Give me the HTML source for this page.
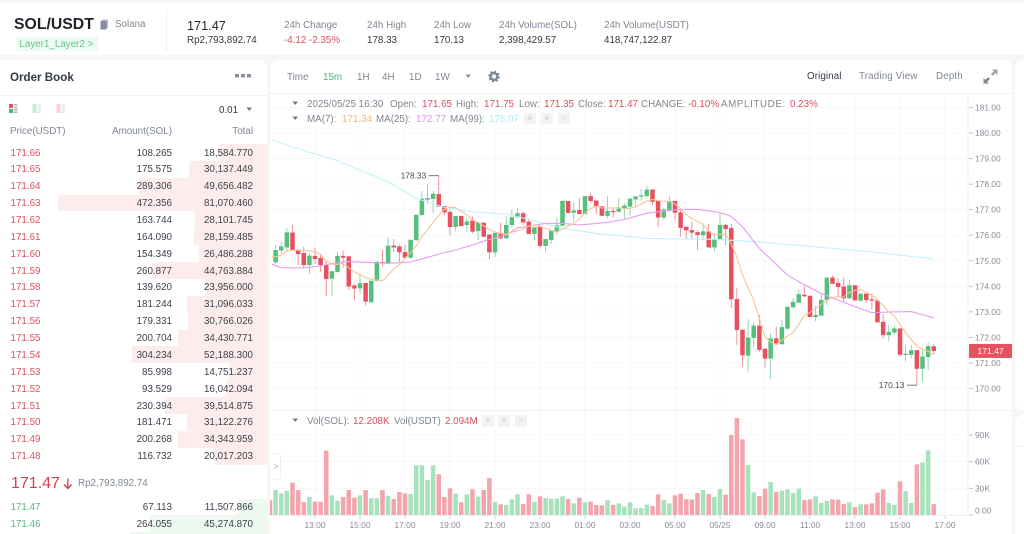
<!DOCTYPE html>
<html lang="en">
<head>
<meta charset="utf-8">
<title>SOL/USDT chart</title>
<style>
html,body{margin:0;padding:0;width:1024px;height:534px;overflow:hidden;background:#f6f6f6;font-family:"Liberation Sans",sans-serif;font-size:9.8px;color:#474d57}
body{position:relative;filter:blur(0.3px)}
.panel{position:absolute;background:#fff}
.t{position:absolute;line-height:14px;height:14px;white-space:nowrap}
.g{color:#7f8793}.d{color:#1e2329}.r{color:#d9505f}.gr{color:#5cb585}
.row{position:absolute;left:0;width:267px;height:16.87px;line-height:16.87px}
.bar{position:absolute;right:0;top:0;height:100%;background:#fdecec}
.row.b .bar{background:#edf8f1}
.row span{position:absolute;white-space:nowrap;top:1.5px}
.p{left:10.5px;color:#d9505f}.row.b .p{color:#5cb585}
.a{right:95px;color:#3c424c}.v{right:14px;color:#3c424c}
.btn{position:absolute;width:11.5px;height:11.5px;background:#f3f3f4;border-radius:1px;color:#dcdfe3;font-size:10px;line-height:11px;text-align:center}
svg text{font-family:"Liberation Sans",sans-serif}
</style>
</head>
<body>

<div class="panel" style="left:0;top:3px;width:1024px;height:52px"></div>
<div class="panel" style="left:0;top:60px;width:267px;height:474px;border-radius:0 8px 0 0"></div>
<div class="panel" style="left:270px;top:60px;width:742px;height:474px;border-radius:8px 8px 0 0"></div>
<div class="panel" style="left:1015px;top:60px;width:9px;height:350px;border-radius:8px 0 0 8px"></div>
<div class="panel" style="left:1015px;top:415px;width:9px;height:119px;border-radius:8px 0 0 0"></div>
<div style="position:absolute;left:1015px;top:446px;width:9px;height:1px;background:#eee"></div>

<!-- header -->
<div class="t d" style="left:14px;top:16.5px;font-size:15.8px;font-weight:bold;line-height:16px;height:16px">SOL/USDT</div>
<svg style="position:absolute;left:100px;top:19px" width="9" height="11"><rect x="2" y="0.5" width="6" height="8.5" fill="#b3b9c2"/><rect x="0.5" y="2" width="6" height="8.5" fill="#848e9c"/></svg>
<div class="t g" style="left:115px;top:18px">Solana</div>
<div style="position:absolute;left:17px;top:37px;width:81px;height:14px;background:#ecfaf1;border-radius:2px"></div>
<div class="t" style="left:19.5px;top:38px;color:#62c58a">Layer1_Layer2 &gt;</div>
<div style="position:absolute;left:166px;top:10px;width:1px;height:42px;background:#f0f0f0"></div>
<div class="t d" style="left:187px;top:19px;font-size:12.7px">171.47</div>
<div class="t" style="left:187px;top:33.5px;color:#333a44">Rp2,793,892.74</div>
<div class="t g" style="left:284px;top:19px">24h Change</div>
<div class="t r" style="left:284px;top:34px">-4.12 -2.35%</div>
<div class="t g" style="left:367px;top:19px">24h High</div>
<div class="t" style="left:367px;top:34px;color:#333a44">178.33</div>
<div class="t g" style="left:434px;top:19px">24h Low</div>
<div class="t" style="left:434px;top:34px;color:#333a44">170.13</div>
<div class="t g" style="left:499px;top:19px">24h Volume(SOL)</div>
<div class="t" style="left:499px;top:34px;color:#333a44">2,398,429.57</div>
<div class="t g" style="left:604px;top:19px">24h Volume(USDT)</div>
<div class="t" style="left:604px;top:34px;color:#333a44">418,747,122.87</div>

<!-- order book -->
<div class="t" style="left:10px;top:70.5px;font-size:11.6px;font-weight:bold;color:#333a44">Order Book</div>
<svg style="position:absolute;left:235px;top:74px" width="17" height="4"><rect x="0" y="0" width="4" height="3.4" fill="#848e9c"/><rect x="6" y="0" width="4" height="3.4" fill="#848e9c"/><rect x="12" y="0" width="4" height="3.4" fill="#848e9c"/></svg>
<div style="position:absolute;left:0;top:94.5px;width:267px;height:1px;background:#f2f2f2"></div>
<svg style="position:absolute;left:9px;top:104px" width="58" height="10">
<rect x="0" y="0" width="4" height="4" fill="#dc5560"/><rect x="0" y="5" width="4" height="4" fill="#4fb27a"/><rect x="5" y="0" width="3.4" height="1.6" fill="#b5bac2"/><rect x="5" y="2.7" width="3.4" height="1.6" fill="#b5bac2"/><rect x="5" y="5" width="3.4" height="1.6" fill="#b5bac2"/><rect x="5" y="7.4" width="3.4" height="1.6" fill="#b5bac2"/>
<rect x="23.5" y="0" width="4" height="9" fill="#c5ecd4"/><rect x="28.5" y="0" width="3.4" height="1.6" fill="#e2e5e8"/><rect x="28.5" y="2.7" width="3.4" height="1.6" fill="#e2e5e8"/><rect x="28.5" y="5" width="3.4" height="1.6" fill="#e2e5e8"/><rect x="28.5" y="7.4" width="3.4" height="1.6" fill="#e2e5e8"/>
<rect x="47.5" y="0" width="4" height="9" fill="#fbd2d6"/><rect x="52.5" y="0" width="3.4" height="1.6" fill="#e2e5e8"/><rect x="52.5" y="2.7" width="3.4" height="1.6" fill="#e2e5e8"/><rect x="52.5" y="5" width="3.4" height="1.6" fill="#e2e5e8"/><rect x="52.5" y="7.4" width="3.4" height="1.6" fill="#e2e5e8"/>
</svg>
<div class="t" style="left:219px;top:104px;color:#333a44">0.01</div>
<svg style="position:absolute;left:246px;top:106.5px" width="7" height="5"><path d="M0.5 0.5H6L3.2 4z" fill="#6f7885"/></svg>
<div class="t g" style="left:10px;top:125px">Price(USDT)</div>
<div class="t g" style="right:852px;top:125px">Amount(SOL)</div>
<div class="t g" style="right:771px;top:125px">Total</div>

<div>
<div class="row" style="top:144px"><div class="bar" style="width:48px"></div><span class="p">171.66</span><span class="a">108.265</span><span class="v">18,584.770</span></div>
<div class="row" style="top:160.87px"><div class="bar" style="width:78px"></div><span class="p">171.65</span><span class="a">175.575</span><span class="v">30,137.449</span></div>
<div class="row" style="top:177.74px"><div class="bar" style="width:128px"></div><span class="p">171.64</span><span class="a">289.306</span><span class="v">49,656.482</span></div>
<div class="row" style="top:194.61px"><div class="bar" style="width:209px"></div><span class="p">171.63</span><span class="a">472.356</span><span class="v">81,070.460</span></div>
<div class="row" style="top:211.48px"><div class="bar" style="width:72.5px"></div><span class="p">171.62</span><span class="a">163.744</span><span class="v">28,101.745</span></div>
<div class="row" style="top:228.35px"><div class="bar" style="width:72.6px"></div><span class="p">171.61</span><span class="a">164.090</span><span class="v">28,159.485</span></div>
<div class="row" style="top:245.22px"><div class="bar" style="width:68px"></div><span class="p">171.60</span><span class="a">154.349</span><span class="v">26,486.288</span></div>
<div class="row" style="top:262.09px"><div class="bar" style="width:115.5px"></div><span class="p">171.59</span><span class="a">260.877</span><span class="v">44,763.884</span></div>
<div class="row" style="top:278.96px"><div class="bar" style="width:62px"></div><span class="p">171.58</span><span class="a">139.620</span><span class="v">23,956.000</span></div>
<div class="row" style="top:295.83px"><div class="bar" style="width:80px"></div><span class="p">171.57</span><span class="a">181.244</span><span class="v">31,096.033</span></div>
<div class="row" style="top:312.7px"><div class="bar" style="width:79px"></div><span class="p">171.56</span><span class="a">179.331</span><span class="v">30,766.026</span></div>
<div class="row" style="top:329.57px"><div class="bar" style="width:89px"></div><span class="p">171.55</span><span class="a">200.704</span><span class="v">34,430.771</span></div>
<div class="row" style="top:346.44px"><div class="bar" style="width:135px"></div><span class="p">171.54</span><span class="a">304.234</span><span class="v">52,188.300</span></div>
<div class="row" style="top:363.31px"><div class="bar" style="width:38px"></div><span class="p">171.53</span><span class="a">85.998</span><span class="v">14,751.237</span></div>
<div class="row" style="top:380.18px"><div class="bar" style="width:41px"></div><span class="p">171.52</span><span class="a">93.529</span><span class="v">16,042.094</span></div>
<div class="row" style="top:397.05px"><div class="bar" style="width:102px"></div><span class="p">171.51</span><span class="a">230.394</span><span class="v">39,514.875</span></div>
<div class="row" style="top:413.92px"><div class="bar" style="width:80px"></div><span class="p">171.50</span><span class="a">181.471</span><span class="v">31,122.276</span></div>
<div class="row" style="top:430.79px"><div class="bar" style="width:88.6px"></div><span class="p">171.49</span><span class="a">200.268</span><span class="v">34,343.959</span></div>
<div class="row" style="top:447.66px"><div class="bar" style="width:52px"></div><span class="p">171.48</span><span class="a">116.732</span><span class="v">20,017.203</span></div>
</div>

<div class="t r" style="left:11px;top:477px;font-size:16px;color:#d3414f">171.47</div>
<svg style="position:absolute;left:63px;top:477.5px" width="10" height="12"><path d="M4.8 0.5V10.5M1 6.5L4.8 10.5L8.6 6.5" stroke="#d3414f" stroke-width="1.3" fill="none"/></svg>
<div class="t g" style="left:78px;top:477px">Rp2,793,892.74</div>

<div>
<div class="row b" style="top:498.6px"><div class="bar" style="width:30px"></div><span class="p">171.47</span><span class="a">67.113</span><span class="v">11,507.866</span></div>
<div class="row b" style="top:515.4px"><div class="bar" style="width:117px"></div><span class="p">171.46</span><span class="a">264.055</span><span class="v">45,274.870</span></div>
<div class="row b" style="top:532.3px;height:1.7px"><div class="bar" style="width:137px"></div></div>
</div>

<!-- toolbar -->
<div class="t g" style="left:287px;top:70.5px">Time</div>
<div class="t" style="left:323px;top:70.5px;color:#4fb27a">15m</div>
<div class="t g" style="left:357px;top:70.5px">1H</div>
<div class="t g" style="left:382px;top:70.5px">4H</div>
<div class="t g" style="left:409px;top:70.5px">1D</div>
<div class="t g" style="left:435px;top:70.5px">1W</div>
<svg style="position:absolute;left:465px;top:74px" width="7" height="5"><path d="M0.5 0.5H6L3.2 4z" fill="#848e9c"/></svg>
<svg style="position:absolute;left:488px;top:70px" width="12" height="13"><circle cx="6" cy="6.5" r="3.4" fill="none" stroke="#7c8694" stroke-width="2.4"/><circle cx="6" cy="6.5" r="5" fill="none" stroke="#7c8694" stroke-width="1.6" stroke-dasharray="2 1.93"/></svg>
<div class="t" style="left:807px;top:70px;color:#333a44;letter-spacing:.1px">Original</div>
<div class="t g" style="left:859px;top:70px;letter-spacing:.15px">Trading View</div>
<div class="t g" style="left:936px;top:70px;letter-spacing:.15px">Depth</div>
<svg style="position:absolute;left:983px;top:69px" width="15" height="15"><path d="M9 0.5H14.5V6L12.6 4.1L9.8 6.9L8 5.1L10.8 2.3z" fill="#9aa3af"/><path d="M6 14.5H0.5V9L2.4 10.9L5.2 8.1L7 9.9L4.2 12.7z" fill="#7c8694"/></svg>
<div style="position:absolute;left:270px;top:93px;width:742px;height:1px;background:#f2f2f2"></div>

<!-- chart -->
<svg id="chart" style="position:absolute;left:0;top:0" width="1024" height="534">
<defs>
<clipPath id="candleClip"><rect x="272.7" y="93" width="696" height="318"/></clipPath>
<clipPath id="volClip"><rect x="270" y="411" width="698" height="105"/></clipPath>
</defs>
<g id="grid"></g>
<g id="vols" clip-path="url(#volClip)"></g>
<g id="candles" clip-path="url(#candleClip)"></g>
<g id="mas"></g>
<g id="axes"></g>
<g id="notes"></g>
</svg>

<!-- legend lines -->
<div style="position:absolute;left:0;top:0">
<svg style="position:absolute;left:292px;top:101px" width="7" height="5"><path d="M0.5 0.5H6L3.2 4z" fill="#6f7885"/></svg>
<div class="t g" style="left:307px;top:97.5px">2025/05/25 16:30</div>
<div class="t g" style="left:390px;top:97.5px">Open:</div>
<div class="t r" style="left:422px;top:97.5px">171.65</div>
<div class="t g" style="left:456px;top:97.5px">High:</div>
<div class="t r" style="left:484px;top:97.5px">171.75</div>
<div class="t g" style="left:519px;top:97.5px">Low:</div>
<div class="t r" style="left:544px;top:97.5px">171.35</div>
<div class="t g" style="left:578px;top:97.5px">Close:</div>
<div class="t r" style="left:608px;top:97.5px">171.47</div>
<div class="t g" style="left:641px;top:97.5px">CHANGE:</div>
<div class="t r" style="left:688px;top:97.5px">-0.10%</div>
<div class="t g" style="left:721px;top:97.5px;letter-spacing:.6px">AMPLITUDE:</div>
<div class="t r" style="left:790px;top:97.5px">0.23%</div>
<svg style="position:absolute;left:292px;top:116px" width="7" height="5"><path d="M0.5 0.5H6L3.2 4z" fill="#6f7885"/></svg>
<div class="t g" style="left:307px;top:112.5px">MA(7):</div>
<div class="t" style="left:342px;top:112.5px;color:#f3b573">171.34</div>
<div class="t g" style="left:376px;top:112.5px">MA(25):</div>
<div class="t" style="left:416px;top:112.5px;color:#e48df0">172.77</div>
<div class="t g" style="left:450px;top:112.5px">MA(99):</div>
<div class="t" style="left:489px;top:112.5px;color:#a5eef5">175.07</div>
<div class="btn" style="left:524px;top:112.5px">●</div>
<div class="btn" style="left:541px;top:112.5px">●</div>
<div class="btn" style="left:558px;top:112.5px">×</div>
<svg style="position:absolute;left:292px;top:418px" width="7" height="5"><path d="M0.5 0.5H6L3.2 4z" fill="#6f7885"/></svg>
<div class="t g" style="left:307px;top:414.5px">Vol(SOL):</div>
<div class="t r" style="left:353px;top:414.5px">12.208K</div>
<div class="t g" style="left:394px;top:414.5px">Vol(USDT)</div>
<div class="t r" style="left:445px;top:414.5px">2.094M</div>
<div class="btn" style="left:482px;top:415px">●</div>
<div class="btn" style="left:498px;top:415px">●</div>
<div class="btn" style="left:515px;top:415px">×</div>
<div style="position:absolute;left:272px;top:453px;width:9px;height:27px;border:1px solid #efefef;border-left:0;border-radius:3px;background:#fff;box-sizing:border-box;color:#9aa3af;font-size:8px;line-height:25px;text-align:center">&gt;</div>
</div>

<script>
const timeLabels = ['13:00','15:00','17:00','19:00','21:00','23:00','01:00','03:00','05:00','05/25','09:00','11:00','13:00','15:00','17:00'];
const priceTicks = [170,171,172,173,174,175,176,177,178,179,180,181];
const volumeTicks = [0,30,60,90];
const volumeTickLabels = ['0.00','30K','60K','90K'];

const opens = [175.30,
174.94,175.40,175.52,176.10,175.44,175.30,174.83,175.19,175.11,174.83,
174.30,174.56,175.19,175.17,174.03,173.92,174.13,173.37,174.21,174.95,
174.90,175.59,175.56,175.34,175.12,175.80,176.79,177.39,177.42,177.61,
177.14,176.91,176.33,176.75,176.40,176.57,176.16,176.49,176.03,175.33,
176.09,175.88,176.40,176.70,176.86,176.53,176.05,176.33,175.58,175.81,
176.14,176.37,177.34,176.88,176.99,176.83,177.53,177.36,177.13,176.76,
176.95,176.92,177.03,177.12,177.40,177.51,177.53,177.79,177.34,176.69,
176.99,177.34,176.89,176.33,176.20,176.12,176.00,176.15,175.52,175.84,
176.40,176.28,173.50,172.30,171.29,171.98,172.46,171.56,171.17,171.96,
171.73,172.34,173.18,173.36,173.67,173.63,172.80,172.85,173.46,174.34,
174.13,173.99,173.53,174.04,173.44,173.71,173.49,173.45,172.61,172.09,
172.19,172.35,171.31,171.32,171.50,170.77,171.23,171.65];
const highs = [175.50,
175.62,175.75,176.27,176.40,175.44,175.55,175.29,175.52,175.23,174.96,
174.59,175.35,175.40,175.19,174.09,174.44,174.14,174.22,174.99,175.42,
175.92,175.85,175.62,175.62,175.82,176.80,177.73,177.99,177.73,178.33,
177.14,176.99,176.75,176.77,176.69,176.73,176.50,176.49,176.03,176.10,
176.49,176.75,176.99,177.05,176.92,176.66,176.31,176.40,175.85,176.20,
176.69,177.38,177.34,177.31,177.44,177.53,177.64,177.36,177.13,177.53,
177.08,177.44,177.25,177.44,177.53,177.80,177.93,177.79,177.34,177.08,
177.53,177.34,177.05,176.33,176.53,176.20,176.46,176.46,176.07,176.86,
176.44,176.44,173.92,172.30,172.71,172.62,172.88,171.56,172.16,172.42,
172.68,173.20,173.53,173.86,174.01,173.63,173.23,173.70,174.34,174.42,
174.31,174.35,174.25,174.04,173.75,173.75,173.72,173.46,172.91,172.49,
172.45,172.35,171.70,171.70,171.50,171.50,171.80,171.75];
const lows = [175.00,
174.87,175.26,175.35,175.39,174.84,174.73,174.49,174.87,174.57,173.63,
173.62,174.53,174.74,173.86,173.46,173.72,173.24,173.37,174.18,174.79,
174.87,175.35,174.96,175.09,175.09,175.79,176.76,177.22,176.86,177.12,
176.79,176.01,176.16,176.33,176.14,176.07,175.81,175.92,175.06,175.16,
175.84,175.84,176.31,176.66,176.40,176.05,175.79,175.48,175.32,175.66,
176.03,176.36,176.86,176.53,176.83,176.82,177.25,176.83,176.75,176.66,
176.69,176.89,176.66,176.76,177.12,177.35,177.51,177.18,176.31,176.60,
176.92,176.57,175.94,175.85,175.85,175.42,175.79,175.52,175.35,175.84,
175.62,173.14,171.70,170.85,170.66,171.64,171.44,170.82,170.37,171.70,
171.73,172.31,173.14,173.33,173.57,172.79,172.64,172.85,173.27,174.08,
173.59,173.40,173.50,173.42,173.40,173.36,173.11,172.58,171.96,171.86,
172.09,171.25,171.05,171.18,170.13,170.27,170.72,171.35];
const closes = [175.10,
175.42,175.56,176.11,175.42,175.26,174.83,175.20,175.07,174.83,174.29,
174.59,175.19,175.12,173.99,173.91,174.12,173.40,174.22,174.96,174.90,
175.59,175.52,175.33,175.12,175.82,176.80,177.43,177.45,177.62,177.12,
176.89,176.32,176.75,176.36,176.54,176.14,176.50,175.94,175.33,176.09,
175.88,176.40,176.70,176.86,176.50,176.05,176.31,175.58,175.85,176.18,
176.39,177.34,176.87,176.97,176.83,177.53,177.34,177.12,176.76,176.95,
176.90,177.04,177.16,177.43,177.52,177.56,177.78,177.31,176.69,177.01,
177.34,176.88,176.29,176.19,176.10,176.01,176.15,175.52,175.86,176.40,
176.24,173.49,172.29,171.30,171.99,172.46,171.51,171.17,171.96,171.73,
172.40,173.20,173.39,173.69,173.61,172.80,172.88,173.47,174.34,174.10,
173.97,173.53,174.04,173.45,173.71,173.46,173.44,172.59,172.09,172.21,
172.35,171.32,171.36,171.50,170.77,171.25,171.66,171.47];
const volumesK = [16.9,
28.1,24.4,27.0,36.4,28.1,14.6,20.3,15.0,15.0,72.4,
22.1,16.1,20.3,28.1,19.5,22.1,28.1,18.8,18.8,28.1,
21.4,18.0,25.9,24.4,23.6,55.9,55.9,39.4,55.9,45.8,
20.3,30.0,24.0,14.3,23.3,28.9,20.6,28.1,41.6,14.6,
12.0,11.3,17.6,23.3,12.4,23.3,14.6,21.0,19.1,18.4,
18.4,21.0,18.0,13.1,19.5,14.3,15.0,11.3,10.9,16.9,
11.3,13.1,9.4,14.3,7.5,7.9,11.6,10.1,23.3,16.9,
13.1,22.1,24.0,17.6,17.6,24.8,28.1,23.6,20.3,29.3,
22.9,90.0,109.1,85.1,56.3,25.5,21.4,29.6,37.1,25.9,
27.4,28.9,24.8,29.6,16.9,17.6,21.0,13.5,15.8,17.6,
17.3,12.4,14.3,9.0,12.0,12.0,13.1,25.1,28.9,13.5,
11.3,37.9,27.0,13.5,57.0,58.9,72.8,12.2];
const priorCloses = [175.20,175.00,175.10,175.30,175.00];
const ma25Candles = [0,2,6,9,12,14,18,21,25,27,30,33,36,38,42,44,46,49,52,55,60,63,67,69,73,76,79,81,82,83,84,87,92,94,98,101,104,107,110,114,118];
const ma25Values = [174.86,174.73,174.72,174.80,174.93,174.97,174.93,174.90,174.95,175.07,175.26,175.42,175.62,175.77,176.01,176.29,176.36,176.46,176.46,176.40,176.50,176.62,176.86,176.92,177.01,177.01,176.92,176.82,176.73,176.53,176.33,175.48,174.44,174.18,173.72,173.46,173.20,172.97,172.99,173.01,172.77];
const ma99Candles = [0,6,12,16,21,26,31,36,42,46,52,58,67,73,79,86,98,107,118];
const ma99Values = [179.73,179.31,178.92,178.55,178.09,177.44,177.09,176.91,176.83,176.62,176.27,176.07,175.88,175.85,175.84,175.75,175.52,175.35,175.07];

const NS = 'http://www.w3.org/2000/svg';
const candleStep = 5.625;
const plotLeft = 270;
const plotRight = 968;
const labelEvery = 8;
function xAt(k){ return plotLeft + candleStep * k; }
function yPrice(p){ return 388.5 - (p - 170) * 25.55; }
function yVol(vK){ return 515 - vK * 0.889; }
function mk(parent, tag, attrs, text){
  const el = document.createElementNS(NS, tag);
  for (const key in attrs) el.setAttribute(key, attrs[key]);
  if (text !== undefined) el.textContent = text;
  parent.appendChild(el);
  return el;
}
const gridG = document.getElementById('grid');
const volG = document.getElementById('vols');
const candleG = document.getElementById('candles');
const maG = document.getElementById('mas');
const axesG = document.getElementById('axes');
const notesG = document.getElementById('notes');
const gridCol = '#f7f7f8';
const axisCol = '#eeeff0';
const tickText = '#858d9a';
const axisFont = 8.4;

timeLabels.forEach(function(label, j){
  const x = xAt(labelEvery * (j + 1));
  const line = mk(gridG, 'line', {x1:x, x2:x, y1:94, y2:515, stroke:gridCol, 'stroke-width':1});
  
  
  const tick = mk(axesG, 'line', {x1:x, x2:x, y1:515.5, y2:519, stroke:'#c4c8ce', 'stroke-width':0.8});
  
  
  const t = mk(axesG, 'text', {x:x, y:528, 'text-anchor':'middle', 'font-size':axisFont, fill:tickText}, label);
  
  
});
priceTicks.forEach(function(p){
  const y = yPrice(p);
  const line = mk(gridG, 'line', {x1:plotLeft, x2:plotRight, y1:y, y2:y, stroke:gridCol, 'stroke-width':1});
  
  
  const tick = mk(axesG, 'line', {x1:plotRight + 1, x2:plotRight + 5, y1:y, y2:y, stroke:'#b8bdc5', 'stroke-width':0.9});
  
  
  const t = mk(axesG, 'text', {x:975, y:y + 3, 'font-size':axisFont, fill:tickText}, p.toFixed(2));
  
  
});
volumeTicks.forEach(function(v, j){
  const y = yVol(v);
  if (v > 0) {
    const line = mk(gridG, 'line', {x1:plotLeft, x2:plotRight, y1:y, y2:y, stroke:gridCol, 'stroke-width':1});
    
    
  }
  const tick = mk(axesG, 'line', {x1:plotRight + 1, x2:plotRight + 5, y1:y, y2:y, stroke:'#b8bdc5', 'stroke-width':0.9});
  
  
  const t = mk(axesG, 'text', {x:975, y:v > 0 ? y + 3 : y - 1.5, 'font-size':axisFont, fill:tickText}, volumeTickLabels[j]);
  
  
});
const vAxis = mk(axesG, 'line', {x1:plotRight, x2:plotRight, y1:94, y2:516, stroke:axisCol, 'stroke-width':1});


const hAxis = mk(axesG, 'line', {x1:plotLeft, x2:plotRight, y1:515.5, y2:515.5, stroke:axisCol, 'stroke-width':1});


const paneDiv = mk(axesG, 'line', {x1:plotLeft, x2:1012, y1:410.5, y2:410.5, stroke:'#f0f0f1', 'stroke-width':1});



const RED = '#e7515f', GREEN = '#55bf7c';
const bodyW = 4.5;
opens.forEach(function(o, k){
  const c = closes[k];
  const up = c >= o;
  const col = up ? GREEN : RED;
  const x = xAt(k);
  const wick = mk(candleG, 'line', {x1:x, x2:x, y1:yPrice(highs[k]), y2:yPrice(lows[k]), stroke:col, 'stroke-width':0.9, 'stroke-opacity':0.7});
  
  
  const top = yPrice(Math.max(o, c));
  const bot = yPrice(Math.min(o, c));
  const body = mk(candleG, 'rect', {x:x - bodyW / 2, y:top, width:bodyW, height:Math.max(bot - top, 1), fill:col});
  
  
  const vy = yVol(volumesK[k]);
  const bar = mk(volG, 'rect', {x:x - bodyW / 2, y:vy, width:bodyW, height:yVol(0) - vy, fill:up ? '#a6e2bc' : '#f4a4ad'});
  
  
});

function drawLine(pts, col, name){
  const line = mk(maG, 'polyline', {points:pts.join(' '), fill:'none', stroke:col, 'stroke-width':1.1, 'stroke-linejoin':'round', 'stroke-linecap':'round'});
  
  
}
const ma99Pts = ma99Candles.map(function(k, j){ return Math.max(xAt(k), 272) + ',' + yPrice(ma99Values[j]); });
drawLine(ma99Pts, '#bff3f7', 'ma99-line');
const ma25Pts = ma25Candles.map(function(k, j){ return Math.max(xAt(k), 272) + ',' + yPrice(ma25Values[j]); });
drawLine(ma25Pts, '#e59df2', 'ma25-line');
const allCloses = priorCloses.concat(closes);
const ma7Pts = closes.map(function(_, k){
  let sum = 0;
  const end = k + priorCloses.length;
  for (let n = end - 5; n <= end; n++) sum += allCloses[n];
  sum += allCloses[Math.max(end - 6, 0)];
  const avg = sum / 7;
  return Math.max(xAt(k), 272) + ',' + yPrice(avg);
});
drawLine(ma7Pts, '#f6c596', 'ma7-line');

let hiK = 0, loK = 0;
highs.forEach(function(h, k){ if (h > highs[hiK]) hiK = k; });
lows.forEach(function(l, k){ if (l < lows[loK]) loK = k; });
const hiY = yPrice(highs[hiK]);
const hiLine = mk(notesG, 'line', {x1:xAt(hiK) - 10, x2:xAt(hiK), y1:hiY, y2:hiY, stroke:'#6f7885', 'stroke-width':1});


const hiText = mk(notesG, 'text', {x:xAt(hiK) - 12.5, y:hiY + 3, 'text-anchor':'end', 'font-size':axisFont, fill:'#474d57'}, highs[hiK].toFixed(2));


const loY = yPrice(lows[loK]);
const loLine = mk(notesG, 'line', {x1:xAt(loK) - 10, x2:xAt(loK), y1:loY, y2:loY, stroke:'#6f7885', 'stroke-width':1});


const loText = mk(notesG, 'text', {x:xAt(loK) - 12.5, y:loY + 3, 'text-anchor':'end', 'font-size':axisFont, fill:'#474d57'}, lows[loK].toFixed(2));


const last = closes[closes.length - 1];
const tag = mk(notesG, 'rect', {x:969, y:yPrice(last) - 7, width:43, height:14, fill:'#e4535f'});


const tagText = mk(notesG, 'text', {x:990.5, y:yPrice(last) + 3.2, 'text-anchor':'middle', 'font-size':8.6, fill:'#fff'}, last.toFixed(2));


</script>
</body>
</html>
